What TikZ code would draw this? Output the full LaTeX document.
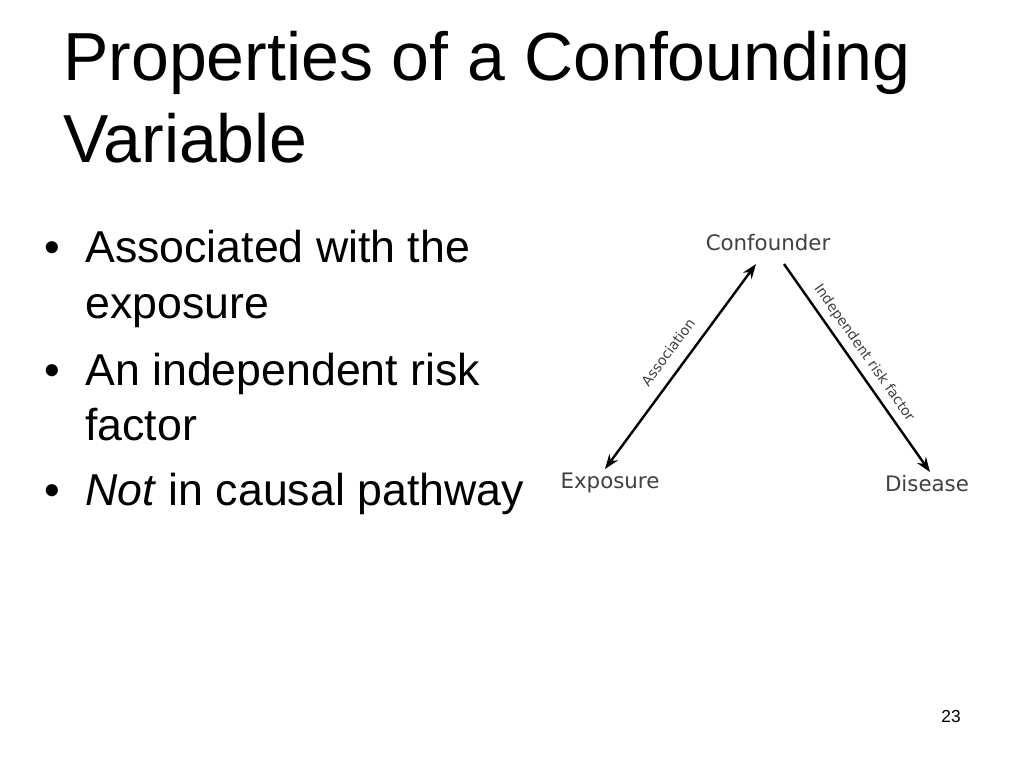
\documentclass[tikz,border=0pt]{standalone}
\usepackage{fontspec}
\setmainfont{Liberation Sans}
\setsansfont{DejaVu Sans}
\usetikzlibrary{arrows.meta}
\begin{document}
\begin{tikzpicture}[x=0.75pt,y=-0.75pt,
  title/.style={anchor=base west,font=\fontsize{51}{60}\selectfont},
  bul/.style={anchor=base west,font=\fontsize{33.5}{40}\selectfont},
  lab/.style={font=\sffamily\fontsize{16}{19}\selectfont,text=black!75},
  small/.style={font=\sffamily\fontsize{10.5}{12}\selectfont,text=black!75},
  arr/.style={line width=1.8pt,-{Stealth[length=11pt,width=8pt]}}]
\useasboundingbox (0,0) rectangle (1024,768);
\node[title,inner sep=0] (t1) at (63,80) {Properties of a Confounding};
\node[title,inner sep=0] (t2) at (63,162) {Variable};
\node[bul,inner sep=0] (b1) at (44,262) {•};
\node[bul,inner sep=0] (l1) at (85,262) {Associated with the};
\node[bul,inner sep=0] (l1b) at (85,318) {exposure};
\node[bul,inner sep=0] (b2) at (44,385) {•};
\node[bul,inner sep=0] (l2) at (85,385) {An independent risk};
\node[bul,inner sep=0] (l2b) at (85,440) {factor};
\node[bul,inner sep=0] (b3) at (44,505) {•};
\node[bul,inner sep=0] (l3) at (85,505) {\textit{Not} in causal pathway};
\node[lab] (c) at (768,243) {Confounder};
\node[lab] (e) at (610,483) {Exposure};
\node[lab] (d) at (927,484) {Disease};
\coordinate (a1) at (756,264);
\coordinate (a2) at (605,469);
\coordinate (r1) at (784,264);
\coordinate (r2) at (930,472);
\draw[arr,{Stealth[length=11pt,width=8pt]}-{Stealth[length=11pt,width=8pt]}] (a2) -- (a1);
\draw[arr] (r1) -- (r2);
\node[small,rotate=53.6] (al) at (668,352) {Association};
\node[small,rotate=-55] (rl) at (864,353) {Independent risk factor};
\node[font=\fontsize{13}{15}\selectfont] (p) at (951,717) {23};
\end{tikzpicture}
\end{document}
